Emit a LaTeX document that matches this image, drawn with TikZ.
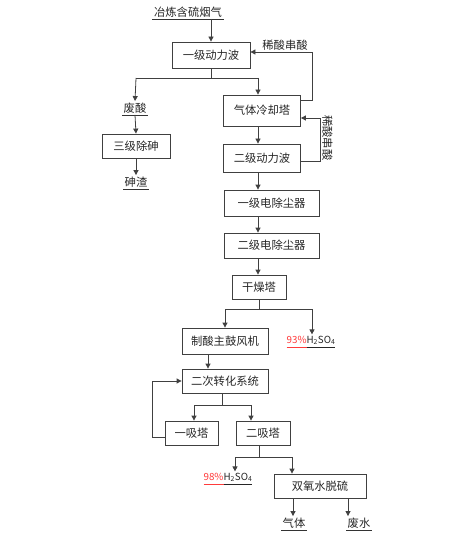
\documentclass[tikz,border=0pt]{standalone}
\usepackage{fontspec}
\setmainfont{Noto Sans CJK SC}
\usetikzlibrary{arrows.meta}
\definecolor{ln}{HTML}{404040}
\definecolor{rd}{HTML}{FF3B3B}
\newcommand\ust{\rule[-2.5pt]{0pt}{0pt}}
\begin{document}
\begin{tikzpicture}[x=1pt,y=-1pt,
  every node/.style={font=\fontsize{11.3}{13}\selectfont, text=black!85},
  box/.style={draw=ln, line width=0.8pt, inner sep=0pt},
  lbl/.style={inner sep=1.5pt},
  ln/.style={draw=ln, line width=0.8pt},
  flow/.style={draw=ln, line width=0.8pt, -{Triangle[width=5pt,length=5pt]}},
  ul/.style={draw=black!80, line width=0.6pt},
  acid/.style={inner sep=1.5pt, font=\fontsize{9.8}{11}\selectfont}]
\useasboundingbox (0,0) rectangle (458,548);

% nodes
\node[lbl] (t0) at (188,12) {冶炼含硫烟气};
\node[box, minimum width=78, minimum height=26] (b1) at (211,55) {一级动力波};
\node[lbl] (ls) at (285,45.5) {稀酸串酸};
\node[lbl] (fs) at (135,108) {废酸};
\node[box, minimum width=68, minimum height=24] (b3) at (136,146) {三级除砷};
\node[lbl] (zz) at (136,182) {砷渣};
\node[box, minimum width=77, minimum height=31] (b2) at (262,110.5) {气体冷却塔};
\node[box, minimum width=77, minimum height=28] (b4) at (262,158) {二级动力波};
\node[lbl, rotate=-90] (ls2) at (327.5,138) {稀酸串酸};
\node[box, minimum width=95, minimum height=26] (b5) at (271.5,203) {一级电除尘器};
\node[box, minimum width=95, minimum height=25] (b6) at (271.5,245.5) {二级电除尘器};
\node[box, minimum width=54, minimum height=24] (b7) at (259,287) {干燥塔};
\node[box, minimum width=86, minimum height=26] (b8) at (225,341) {制酸主鼓风机};
\node[acid] (h1) at (311,342)
  {\textcolor{rd}{\underline{\ust 93\%}}\underline{\ust H\textsubscript{2}SO\textsubscript{4}}};
\node[box, minimum width=86, minimum height=24] (b9) at (225,381) {二次转化系统};
\node[box, minimum width=53, minimum height=24] (b10) at (191.5,433) {一吸塔};
\node[box, minimum width=54, minimum height=24] (b11) at (263,433) {二吸塔};
\node[acid] (h2) at (228,479)
  {\textcolor{rd}{\underline{\ust 98\%}}\underline{\ust H\textsubscript{2}SO\textsubscript{4}}};
\node[box, minimum width=92, minimum height=24] (b12) at (320,486) {双氧水脱硫};
\node[lbl] (qt) at (294,523) {气体};
\node[lbl] (fw) at (359,523) {废水};

% underlines of text labels
\foreach \n in {t0,fs,zz,qt,fw}
  \draw[ul] (\n.south west) -- (\n.south east);

% coordinates
\coordinate (sp) at (258,0);
\coordinate (j1) at (211,78);
\coordinate (jl) at (136,78);
\coordinate (jr) at (258,78);
\coordinate (rt) at (312,52);
\coordinate (rv) at (320,118);
\coordinate (rb) at (320,161);
\coordinate (j2) at (259,309);
\coordinate (j2l) at (225,309);
\coordinate (j2r) at (312,309);
\coordinate (k8) at (208,0);
\coordinate (j3) at (222,405);
\coordinate (j3l) at (194,405);
\coordinate (j3r) at (251,405);
\coordinate (lp) at (152,437);
\coordinate (j4) at (259,457);
\coordinate (j4l) at (235,457);
\coordinate (j4r) at (292,457);
\coordinate (g1) at (293,0);
\coordinate (g2) at (348,0);

% connectors
\draw[flow] (b1.north |- t0.south) -- (b1.north);
\draw[ln] (b1.south) -- (j1);
\draw[ln] (jl) -- (jr);
\draw[flow] (jl) -- (fs.north);
\draw[flow] (jr) -- (jr |- b2.north);
\draw[flow] (fs.south) -- (b3.north);
\draw[flow] (b3.south) -- (zz.north);
% 稀酸串酸 return to 一级动力波
\draw[flow] ([yshift=10pt]b2.east) -| (rt) -- (b1.east |- rt);
% 稀酸串酸 from 二级动力波 to 气体冷却塔
\draw[flow] (b4.east |- rb) -- (rb) -- (rv) -- (b2.east |- rv);
% main spine
\draw[flow] (b2.south -| sp) -- (b4.north -| sp);
\draw[flow] (b4.south -| sp) -- (b5.north -| sp);
\draw[flow] (b5.south -| sp) -- (b6.north -| sp);
\draw[flow] (b6.south -| sp) -- (b7.north -| sp);
\draw[ln] (b7.south) -- (j2);
\draw[ln] (j2l) -- (j2r);
\draw[flow] (j2l) -- (b8.north);
\draw[flow] (j2r) -- (j2r |- h1.north);
\draw[flow] (b8.south -| k8) -- (b9.north -| k8);
\draw[ln] (b9.south -| j3) -- (j3);
\draw[ln] (j3l) -- (j3r);
\draw[flow] (j3l) -- (j3l |- b10.north);
\draw[flow] (j3r) -- (j3r |- b11.north);
\draw[flow] (b10.west |- lp) -- (lp) |- (b9.west);
\draw[ln] (b11.south -| j4) -- (j4);
\draw[ln] (j4l) -- (j4r);
\draw[flow] (j4l) -- (j4l |- h2.north);
\draw[flow] (j4r) -- (j4r |- b12.north);
\draw[flow] (b12.south -| g1) -- (g1 |- qt.north);
\draw[flow] (b12.south -| g2) -- (g2 |- fw.north);
\end{tikzpicture}
\end{document}
